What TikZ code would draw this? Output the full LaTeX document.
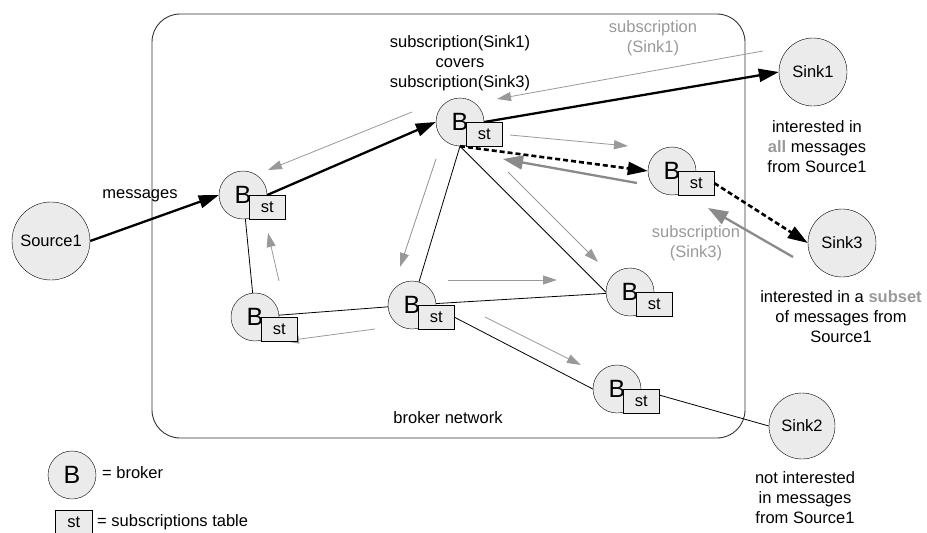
\documentclass[tikz,border=0pt]{standalone}
\usepackage{fontspec}
\setmainfont{Liberation Sans}
\usetikzlibrary{arrows.meta,backgrounds,calc}
\definecolor{nodefill}{HTML}{EBEBEB}
\definecolor{subgray}{HTML}{999999}
\definecolor{subdark}{HTML}{8A8A8A}
\definecolor{framegray}{HTML}{333333}

% a broker: circle "B" with its subscriptions table at the lower right
\newcommand\brokerat[3]{%
  \node[brk] (#1) at (#2,#3) {B};
  \node[stbox] (#1st) at ($(#1)+(6,0)$) {st};}

\begin{document}
\begin{tikzpicture}[x=1pt,y=-1pt,
  every node/.style={font=\fontsize{16.5}{20}\selectfont},
  brk/.style={circle,draw,fill=nodefill,minimum size=48pt,inner sep=0pt,font=\fontsize{25}{25}\selectfont},
  stbox/.style={draw,fill=nodefill,minimum width=36pt,minimum height=24pt,inner sep=0pt,anchor=north west},
  endpt/.style={circle,draw,fill=nodefill,inner sep=0pt},
  link/.style={line width=0.8pt},
  flow/.style={line width=2.3pt,-{Triangle[length=20pt,width=13pt]}},
  subflow/.style={line width=2.6pt,dash pattern=on 5pt off 3pt,-{Triangle[length=20pt,width=13pt]}},
  sub/.style={draw=subgray,line width=0.8pt,-{Triangle[length=14pt,width=9pt,fill=subgray]}},
  subthick/.style={draw=subdark,line width=2.3pt,-{Triangle[length=20pt,width=14pt,fill=subdark]}},
  note/.style={align=center},
  graynote/.style={align=center,text=subgray},
]
\useasboundingbox (0,0) rectangle (927,533);

% brokers
\brokerat{b1}{243}{195}
\brokerat{b2}{255}{317}
\brokerat{b3}{412}{305}
\brokerat{bt}{460}{122}
\brokerat{brt}{672}{171}
\brokerat{brm}{630}{292}
\brokerat{bbr}{617}{389}

% sources and sinks
\node[endpt,minimum size=78pt] (src) at (51,241) {Source1};
\node[endpt,minimum size=68pt] (sink1) at (813,72) {Sink1};
\node[endpt,minimum size=68pt] (sink3) at (842,243) {Sink3};
\node[endpt,minimum size=66pt] (sink2) at (802,426) {Sink2};

% endpoints of the subscription arrows
\coordinate (g1a) at (763,51);  \coordinate (g1b) at (497,99);
\coordinate (g2a) at (412,112); \coordinate (g2b) at (268,170);
\coordinate (g3a) at (510,135); \coordinate (g3b) at (628,146);
\coordinate (g4a) at (637,183); \coordinate (g4b) at (503,159);
\coordinate (g5a) at (793,257); \coordinate (g5b) at (708,208);
\coordinate (g6a) at (436,159); \coordinate (g6b) at (400,267);
\coordinate (g7a) at (508,172); \coordinate (g7b) at (598,262);
\coordinate (g8a) at (448,280); \coordinate (g8b) at (557,280);
\coordinate (g9a) at (485,317); \coordinate (g9b) at (581,365);
\coordinate (g10a) at (375,329); \coordinate (g10b) at (285,341);
\coordinate (g11a) at (279,281); \coordinate (g11b) at (268,233);

\begin{pgfonlayer}{background}
  % broker network frame
  \draw[framegray,line width=0.9pt,rounded corners=28pt] (152,14) rectangle (745,438);
  % links between brokers
  \draw[link] (b1) -- (b2);
  \draw[link] (b2) -- (b3);
  \draw[link] (b3) -- (bt.south);
  \draw[link] (bt.south) -- (brm.west);
  \draw[link] (b3) -- (brm);
  \draw[link] (b3st.east) -- (bbr.west);
  \draw[link] ($(bbrst.north east)!0.25!(bbrst.south east)$) -- (sink2.west);
  % subscription propagation
  \draw[sub] (g1a) -- (g1b);
  \draw[sub] (g2a) -- (g2b);
  \draw[sub] (g3a) -- (g3b);
  \draw[subthick] (g4a) -- (g4b);
  \draw[subthick] (g5a) -- (g5b);
  \draw[sub] (g6a) -- (g6b);
  \draw[sub] (g7a) -- (g7b);
  \draw[sub] (g8a) -- (g8b);
  \draw[sub] (g9a) -- (g9b);
  \draw[sub] (g10a) -- (g10b);
  \draw[sub] (g11a) -- (g11b);
\end{pgfonlayer}

% message flow
\draw[flow] (src.east) -- (b1.west);
\draw[flow] (b1.east) -- (bt.west);
\draw[flow] (bt.east) -- (sink1.west);
\draw[subflow] (bt.south) -- (brt.west);
\draw[subflow] (brtst.east) -- (sink3.west);

% labels
\node[note] (cov) at (460,63) {subscription(Sink1)\\covers\\subscription(Sink3)};
\node[graynote] (s1lab) at (653,38) {subscription\\(Sink1)};
\node[graynote] (s3lab) at (696,243) {subscription\\(Sink3)};
\node (msg) at (140,196) {messages};
\node[note] (n1) at (817,147) {interested in\\{\bfseries\color{subgray}all} messages\\from Source1};
\node[note] (n3) at (841,317) {interested in a {\bfseries\color{subgray}subset}\\of messages from\\Source1};
\node[note] (n2) at (805,498) {not interested\\in messages\\from Source1};
\node (bn) at (448,418) {broker network};

% legend
\node[brk] (lb) at (72,475) {B};
\node[anchor=west,inner sep=0pt] (lbt) at (102,473) {= broker};
\node[stbox,minimum width=37pt] (lst) at (55,510) {st};
\node[anchor=west,inner sep=0pt] (lstt) at (97,522) {= subscriptions table};
\end{tikzpicture}
\end{document}
